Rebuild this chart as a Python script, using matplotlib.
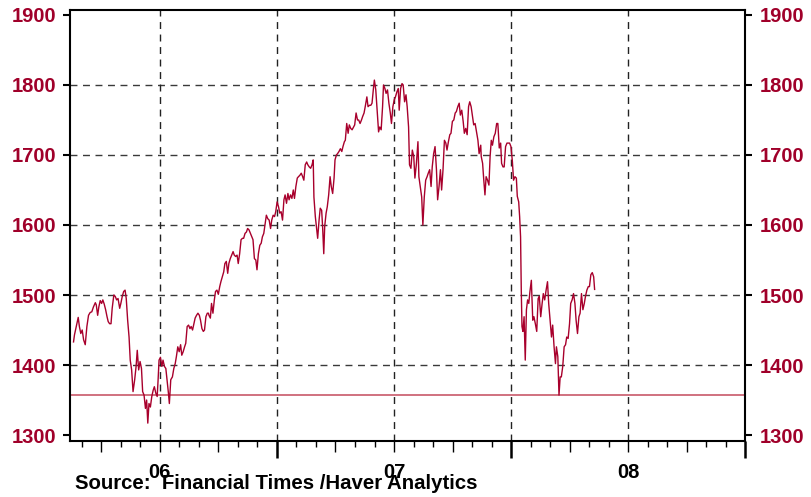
import matplotlib
matplotlib.use("Agg")
import matplotlib.pyplot as plt
import numpy as np

plt.rcParams['font.family'] = ['Liberation Sans', 'DejaVu Sans']
plt.rcParams['font.weight'] = 'bold'

LINE_RED = '#a8002c'
LABEL_RED = '#a0002a'
FLOOR_RED = '#c44a5c'

# index level, x in decimal years
t_a = [2005.632, 2005.636, 2005.646, 2005.652, 2005.657, 2005.663, 2005.669, 2005.675, 2005.682, 2005.689,
       2005.696, 2005.703, 2005.710, 2005.717, 2005.725, 2005.729, 2005.735, 2005.740, 2005.746, 2005.752,
       2005.757, 2005.763, 2005.769, 2005.775, 2005.780, 2005.786, 2005.792, 2005.797, 2005.804, 2005.810,
       2005.816, 2005.822, 2005.829, 2005.834, 2005.840, 2005.846, 2005.852, 2005.857, 2005.863, 2005.869,
       2005.874, 2005.880, 2005.886, 2005.893, 2005.899, 2005.904, 2005.910, 2005.916, 2005.922, 2005.927,
       2005.933, 2005.939, 2005.944, 2005.949, 2005.954, 2005.960, 2005.966, 2005.972, 2005.977, 2005.983,
       2005.989, 2005.993, 2005.997, 2006.003, 2006.009, 2006.014, 2006.020, 2006.026, 2006.031, 2006.037,
       2006.041, 2006.047, 2006.054, 2006.060, 2006.066, 2006.071, 2006.077, 2006.083, 2006.089, 2006.094,
       2006.100, 2006.106, 2006.111, 2006.117, 2006.123, 2006.129, 2006.134, 2006.140, 2006.146, 2006.151,
       2006.157, 2006.163, 2006.169, 2006.174, 2006.180, 2006.186, 2006.191, 2006.197, 2006.203, 2006.208]
v_a = [1433, 1443, 1459, 1468, 1455, 1445, 1450, 1436, 1429, 1455,
       1471, 1475, 1476, 1483, 1489, 1486, 1471, 1483, 1492, 1488,
       1493, 1487, 1479, 1469, 1462, 1459, 1459, 1481, 1500, 1498,
       1493, 1495, 1481, 1488, 1498, 1505, 1507, 1495, 1464, 1440,
       1407, 1393, 1362, 1379, 1398, 1421, 1393, 1405, 1395, 1362,
       1357, 1338, 1350, 1317, 1345, 1340, 1355, 1364, 1369, 1360,
       1355, 1379, 1407, 1411, 1398, 1407, 1398, 1395, 1379, 1360,
       1345, 1379, 1383, 1395, 1402, 1412, 1426, 1419, 1429, 1414,
       1419, 1426, 1431, 1455, 1457, 1452, 1455, 1450, 1459, 1467,
       1471, 1474, 1471, 1464, 1452, 1448, 1450, 1469, 1474, 1474]

t_b = [2006.210, 2006.216, 2006.221, 2006.227, 2006.233, 2006.238, 2006.244, 2006.250, 2006.256, 2006.261,
       2006.267, 2006.273, 2006.278, 2006.284, 2006.290, 2006.295, 2006.301, 2006.307, 2006.313, 2006.318,
       2006.324, 2006.330, 2006.335, 2006.341, 2006.347, 2006.353, 2006.358, 2006.364, 2006.370, 2006.375,
       2006.381, 2006.387, 2006.393, 2006.398, 2006.404, 2006.410, 2006.415, 2006.421, 2006.427, 2006.433,
       2006.438, 2006.444, 2006.450, 2006.455, 2006.461, 2006.467, 2006.473, 2006.478, 2006.484, 2006.490,
       2006.495, 2006.501, 2006.507, 2006.512, 2006.518, 2006.524, 2006.530, 2006.535, 2006.541, 2006.547,
       2006.552, 2006.558, 2006.564, 2006.570, 2006.575, 2006.581, 2006.587, 2006.592, 2006.598, 2006.604,
       2006.610, 2006.615, 2006.621, 2006.627, 2006.632, 2006.638, 2006.644, 2006.650, 2006.655, 2006.658,
       2006.664, 2006.670, 2006.674, 2006.680, 2006.685, 2006.691, 2006.695, 2006.700, 2006.704, 2006.710,
       2006.715, 2006.721, 2006.727, 2006.732, 2006.738, 2006.744, 2006.748, 2006.754, 2006.759, 2006.765,
       2006.771, 2006.777, 2006.782, 2006.788]
v_b = [1471, 1467, 1488, 1474, 1493, 1505, 1507, 1501, 1512, 1519,
       1526, 1533, 1545, 1548, 1531, 1545, 1552, 1557, 1562, 1557,
       1555, 1557, 1545, 1559, 1579, 1581, 1581, 1588, 1590, 1595,
       1593, 1588, 1583, 1579, 1552, 1550, 1536, 1559, 1571, 1574,
       1583, 1588, 1602, 1614, 1609, 1607, 1595, 1607, 1614, 1612,
       1619, 1633, 1626, 1617, 1619, 1607, 1636, 1643, 1631, 1645,
       1636, 1643, 1638, 1650, 1638, 1655, 1667, 1669, 1671, 1674,
       1669, 1664, 1686, 1690, 1686, 1683, 1681, 1686, 1693, 1640,
       1612, 1593, 1581, 1607, 1624, 1621, 1598, 1559, 1598, 1617,
       1626, 1643, 1669, 1655, 1645, 1667, 1693, 1700, 1702, 1705,
       1709, 1705, 1712, 1719]

t_c = [2006.792, 2006.798, 2006.804, 2006.809, 2006.815, 2006.821, 2006.827, 2006.832, 2006.838, 2006.844,
       2006.849, 2006.855, 2006.861, 2006.866, 2006.872, 2006.878, 2006.884, 2006.889, 2006.895, 2006.901,
       2006.906, 2006.912, 2006.916, 2006.922, 2006.928, 2006.934, 2006.939, 2006.945, 2006.951, 2006.955,
       2006.961, 2006.966, 2006.972, 2006.978, 2006.984, 2006.989, 2006.995, 2007.001, 2007.006, 2007.012,
       2007.018, 2007.022, 2007.028, 2007.034, 2007.039, 2007.045, 2007.051, 2007.056, 2007.062, 2007.066,
       2007.072, 2007.078, 2007.084, 2007.089, 2007.095, 2007.102, 2007.106, 2007.112, 2007.118, 2007.123,
       2007.129, 2007.135, 2007.141, 2007.146, 2007.152, 2007.158, 2007.163, 2007.169, 2007.175, 2007.181,
       2007.186, 2007.192, 2007.198, 2007.203, 2007.209, 2007.215, 2007.221, 2007.226, 2007.232, 2007.238,
       2007.243, 2007.249, 2007.255, 2007.261, 2007.266, 2007.272, 2007.278, 2007.283, 2007.289, 2007.295,
       2007.300, 2007.306, 2007.312, 2007.318, 2007.323, 2007.329, 2007.335, 2007.340, 2007.346, 2007.352,
       2007.358, 2007.363, 2007.370]
v_c = [1721, 1745, 1731, 1743, 1738, 1736, 1740, 1743, 1760, 1750,
       1750, 1745, 1750, 1755, 1760, 1771, 1783, 1769, 1771, 1771,
       1774, 1795, 1807, 1793, 1762, 1733, 1740, 1736, 1769, 1800,
       1795, 1788, 1793, 1774, 1760, 1745, 1769, 1779, 1783, 1790,
       1795, 1764, 1795, 1802, 1800, 1776, 1786, 1769, 1740, 1686,
       1681, 1707, 1698, 1667, 1686, 1719, 1669, 1655, 1640, 1600,
       1640, 1664, 1669, 1674, 1679, 1655, 1683, 1702, 1712, 1679,
       1636, 1655, 1679, 1650, 1679, 1721, 1717, 1707, 1719, 1729,
       1731, 1748, 1750, 1760, 1762, 1769, 1774, 1757, 1764, 1748,
       1731, 1738, 1729, 1769, 1776, 1769, 1755, 1743, 1745, 1733,
       1721, 1702, 1714]

t_d = [2007.372, 2007.378, 2007.383, 2007.388, 2007.393, 2007.399, 2007.405, 2007.410, 2007.415, 2007.420,
       2007.426, 2007.432, 2007.438, 2007.443, 2007.449, 2007.455, 2007.459, 2007.465, 2007.470, 2007.476,
       2007.482, 2007.487, 2007.493, 2007.499, 2007.505, 2007.510, 2007.516, 2007.522, 2007.526, 2007.532,
       2007.536, 2007.540, 2007.543, 2007.546, 2007.550, 2007.555, 2007.560, 2007.565, 2007.570, 2007.575,
       2007.580, 2007.586, 2007.592, 2007.597, 2007.603, 2007.609, 2007.615, 2007.620, 2007.626, 2007.632,
       2007.637, 2007.643, 2007.649, 2007.655, 2007.660, 2007.666, 2007.672, 2007.677, 2007.683, 2007.689,
       2007.693, 2007.699, 2007.704, 2007.709, 2007.714, 2007.720, 2007.726, 2007.732, 2007.737, 2007.743,
       2007.749, 2007.754, 2007.760, 2007.766, 2007.772, 2007.777, 2007.783, 2007.789, 2007.794, 2007.800,
       2007.806, 2007.812, 2007.817, 2007.823, 2007.829, 2007.834, 2007.840, 2007.846, 2007.852, 2007.856]
v_d = [1698, 1688, 1664, 1643, 1669, 1664, 1657, 1698, 1721, 1714,
       1726, 1731, 1745, 1745, 1710, 1717, 1688, 1683, 1683, 1712,
       1717, 1717, 1717, 1712, 1691, 1664, 1669, 1667, 1641, 1633,
       1612, 1583, 1507, 1455, 1448, 1469, 1407, 1479, 1493, 1488,
       1505, 1521, 1464, 1469, 1459, 1448, 1495, 1498, 1469, 1488,
       1502, 1493, 1507, 1519, 1488, 1464, 1440, 1457, 1426, 1402,
       1426, 1412, 1357, 1383, 1383, 1398, 1426, 1429, 1440, 1438,
       1459, 1488, 1493, 1502, 1488, 1464, 1445, 1469, 1474, 1502,
       1479, 1488, 1498, 1507, 1512, 1512, 1529, 1532, 1526, 1508]

floor_level = 1357
y_ticks = [1300, 1400, 1500, 1600, 1700, 1800, 1900]
y_grid = [1400, 1500, 1600, 1700, 1800]
x_grid = [2006.0, 2006.5, 2007.0, 2007.5, 2008.0]
year_labels = {2006: '06', 2007: '07', 2008: '08'}

t = np.concatenate([t_a, t_b, t_c, t_d])
v = np.concatenate([v_a, v_b, v_c, v_d])

fig = plt.figure(figsize=(8.12, 4.97), dpi=100)
ax = fig.add_axes([0.0868, 0.1133, 0.8313, 0.866])

for g in y_grid:
    ax.axhline(g, color='#3a3a3a', lw=1.0, ls=(0, (5, 4)), zorder=1)
for g in x_grid:
    ax.axvline(g, color='#222222', lw=1.0, ls=(0, (5, 4)), zorder=1)

ax.axhline(floor_level, color=FLOOR_RED, lw=1.1, zorder=2)
ax.plot(t, v, color=LINE_RED, lw=1.0, zorder=3)

ax.set_xlim(2005.619, 2008.5)
ax.set_ylim(1291.9, 1906.7)

# monthly minor ticks, quarterly major ticks, longer ones in July
months = np.arange(2005 + 8 / 12, 2008.5 + 1e-6, 1 / 12)
quarters = np.arange(2005.75, 2008.5 + 1e-6, 0.25)
ax.set_xticks(months, minor=True)
ax.set_xticks(quarters)
ax.set_xticklabels([year_labels.get(int(round(q)), '') if abs(q - round(q)) < 1e-6 else '' for q in quarters])
ax.tick_params(axis='x', which='major', length=8, width=1, pad=8, labelsize=14.5, colors='black')
ax.tick_params(axis='x', which='minor', length=4.3, width=1, colors='black')

ax.set_yticks(y_ticks)
ax.tick_params(axis='y', left=True, right=True, labelleft=True, labelright=True,
               length=5, width=1.5, pad=5, labelsize=14.5, labelcolor=LABEL_RED)

for s in ax.spines.values():
    s.set_linewidth(1.5)

for tick in ax.xaxis.get_major_ticks():
    if abs(tick.get_loc() % 1 - 0.5) < 1e-6:
        tick.tick1line.set_markersize(12)
        tick.tick1line.set_markeredgewidth(1.8)

fig.text(75 / 812, 1 - 489 / 497, 'Source:  Financial Times /Haver Analytics',
         fontsize=14.7, fontweight='bold', va='baseline', ha='left')

fig.savefig('out.png', dpi=100)
